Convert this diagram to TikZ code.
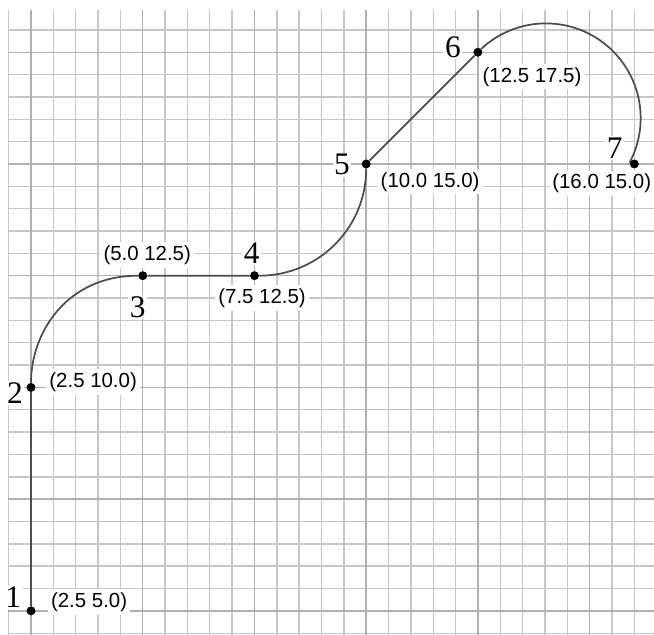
\documentclass[tikz,border=0pt]{standalone}
\usepackage{fontspec}
\setmainfont{Liberation Serif}
\newfontfamily\labelfont{Liberation Sans}

\begin{document}
\begin{tikzpicture}[
    dot/.style={circle,fill=black,inner sep=0pt,minimum size=2mm},
    num/.style={fill=white,inner sep=1pt,font=\fontsize{20}{24}\selectfont},
    coord/.style={fill=white,inner sep=2pt,font=\labelfont\fontsize{13}{15}\selectfont},
    path line/.style={black!70,line width=1.1pt}
  ]
  \useasboundingbox (1.806,4.463) rectangle (16.44,18.669);

  % Draw grid
  \draw[step=0.5,gray!45,line width=0.9pt] (1.98,4.463) grid (16.44,18.45);
  \draw[step=2.5,gray!62,line width=0.9pt] (1.98,4.463) grid (16.44,18.45);

  % Label points
  \node[num] (n1) at (2.1,5.3) {1};
  \node[num] (n2) at (2.14,9.88) {2};
  \node[num] (n3) at (4.89,11.8) {3};
  \node[num] (n4) at (7.44,13.01) {4};
  \node[num] (n5) at (9.46,14.98) {5};
  \node[num] (n6) at (11.94,17.62) {6};
  \node[num] (n7) at (15.56,15.36) {7};

  \node[coord] (c1) at (3.8,5.2) {(2.5 5.0)};
  \node[coord] (c2) at (3.89,10.12) {(2.5 10.0)};
  \node[coord] (c3) at (5.1,12.96) {(5.0 12.5)};
  \node[coord] (c4) at (7.67,12.0) {(7.5 12.5)};
  \node[coord] (c5) at (11.43,14.6) {(10.0 15.0)};
  \node[coord] (c6) at (13.71,16.95) {(12.5 17.5)};
  \node[coord] (c7) at (15.27,14.57) {(16.0 15.0)};

  % Draw points
  \node[dot] (p1) at (2.5,5) {};
  \node[dot] (p2) at (2.5,10) {};
  \node[dot] (p3) at (5,12.5) {};
  \node[dot] (p4) at (7.5,12.5) {};
  \node[dot] (p5) at (10,15) {};
  \node[dot] (p6) at (12.5,17.5) {};
  \node[dot] (p7) at (16,15) {};

  % Draw path
  \draw[path line] (p1) -- (p2)
    to[out=90,in=180,out looseness=0.85,in looseness=1.2] (p3) -- (p4)
    to[out=0,in=-90] (p5) -- (p6);
  \draw[path line] (p6.45) arc[start angle=133,end angle=-28,radius=2.12];
\end{tikzpicture}
\end{document}
